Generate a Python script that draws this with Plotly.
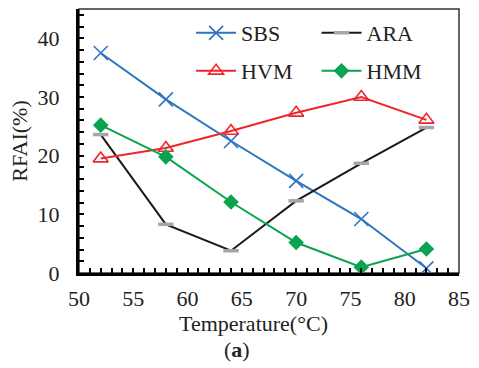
import plotly.graph_objects as go

# Temperature (°C) and RFAI (%) for each binder
temperature = [52, 58, 64, 70, 76, 82]
sbs = [37.5, 29.6, 22.5, 15.7, 9.2, 0.8]
ara = [23.6, 8.3, 3.8, 12.3, 18.7, 24.8]
hvm = [19.5, 21.3, 24.2, 27.3, 30.0, 26.1]
hmm = [25.2, 19.8, 12.1, 5.2, 1.0, 4.1]

FONT = "Liberation Serif"
FS = 22
TXT = "#222"

fig = go.Figure()
fig.add_trace(go.Scatter(
    x=temperature, y=sbs, name="SBS", mode="lines+markers",
    line=dict(color="#2E75C0", width=2),
    marker=dict(symbol="x-thin", size=14, line=dict(color="#2E75C0", width=1.6)),
    legend="legend", showlegend=True))
fig.add_trace(go.Scatter(
    x=temperature, y=ara, name="ARA", mode="lines+markers",
    line=dict(color="#1a1a1a", width=2),
    marker=dict(symbol="line-ew", size=11, line=dict(color="#A6A6A6", width=3.5)),
    legend="legend2", showlegend=True))
fig.add_trace(go.Scatter(
    x=temperature, y=hvm, name="HVM", mode="lines+markers",
    line=dict(color="#F0242B", width=2),
    marker=dict(symbol="triangle-up-open", size=13, color="#F0242B",
                line=dict(color="#F0242B", width=1.6)),
    legend="legend3", showlegend=True))
fig.add_trace(go.Scatter(
    x=temperature, y=hmm, name="HMM", mode="lines+markers",
    line=dict(color="#0AA34F", width=2),
    marker=dict(symbol="diamond", size=12, color="#0AA34F"),
    legend="legend4", showlegend=True))

# one legend box per entry, laid out as a 2 x 2 grid inside the plot
legend_common = dict(
    xanchor="left", yanchor="middle", visible=True,
    font=dict(family=FONT, size=FS, color=TXT),
    bgcolor="rgba(0,0,0,0)", itemwidth=40,
)
col1, col2 = 0.295, 0.625
row1, row2 = 0.909, 0.765

axis_font = dict(family=FONT, size=FS, color=TXT)

fig.update_layout(
    width=479, height=368,
    showlegend=True,
    margin=dict(l=79, r=10, t=9, b=95),
    paper_bgcolor="white", plot_bgcolor="white",
    font=dict(family=FONT, size=FS, color=TXT),
    legend=dict(x=col1, y=row1, **legend_common),
    legend2=dict(x=col2, y=row1, **legend_common),
    legend3=dict(x=col1, y=row2, **legend_common),
    legend4=dict(x=col2, y=row2, **legend_common),
    xaxis=dict(
        range=[50, 85], dtick=5, tick0=50,
        showline=True, linecolor="black", linewidth=3,
        ticks="inside", ticklen=5, tickwidth=2, tickcolor="black",
        minor=dict(dtick=1, ticks="inside", ticklen=5, tickwidth=2, tickcolor="black"),
        showgrid=False, zeroline=False,
        tickfont=axis_font, ticklabelstandoff=4, ticklabeloverflow="allow",
    ),
    yaxis=dict(
        range=[0, 45], dtick=10, tick0=0,
        showline=True, linecolor="black", linewidth=3,
        ticks="inside", ticklen=5, tickwidth=2, tickcolor="black",
        minor=dict(dtick=2, ticks="inside", ticklen=5, tickwidth=2, tickcolor="black"),
        showgrid=False, zeroline=False,
        tickfont=axis_font, ticklabelstandoff=12,
        title=dict(text="RFAI(%)", font=axis_font, standoff=4),
    ),
    shapes=[dict(type="rect", xref="paper", yref="paper", x0=0, y0=0, x1=1, y1=1,
                 line=dict(color="#333", width=1.5), layer="below")],
    annotations=[
        # x-axis title, set slightly left of the plot centre
        dict(text="Temperature(°C)", xref="paper", yref="paper", x=0.459, y=-0.19,
             showarrow=False, font=axis_font, xanchor="center", yanchor="middle"),
        dict(text="(<b>a</b>)", xref="paper", yref="paper", x=0.415, y=-0.29,
             showarrow=False, font=axis_font, xanchor="center", yanchor="middle"),
    ],
)

fig.write_html("out.html")
